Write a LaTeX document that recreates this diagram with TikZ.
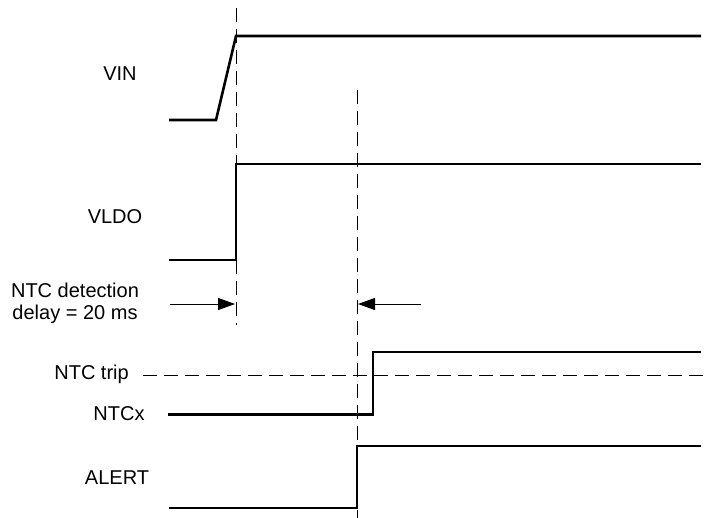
\documentclass[tikz,border=0pt]{standalone}
\usepackage{fontspec}
\setmainfont{Liberation Sans}
\usetikzlibrary{arrows.meta}
\begin{document}
\begin{tikzpicture}[x=1pt,y=-1pt,
  lbl/.style={font=\fontsize{20}{22}\selectfont, inner sep=0pt},
  wave/.style={line width=2.6pt, line join=miter},
  guide/.style={line width=1pt, dash pattern=on 14pt off 7pt},
  dimarrow/.style={line width=1pt, -{Triangle[length=17pt,width=12pt]}}]
\useasboundingbox (0,0) rectangle (708,518);
% labels
\node[lbl] (vin) at (120,74) {VIN};
\node[lbl] (vldo) at (115,217) {VLDO};
\node[lbl, align=center] (det) at (75,303) {NTC detection\\delay = 20 ms};
\node[lbl, anchor=east] (trip) at (129,374) {NTC trip};
\node[lbl] (ntcx) at (119,414) {NTCx};
\node[lbl] (alert) at (117,478) {ALERT};
% guide lines
\coordinate (g1t) at (236,8);
\coordinate (g1b) at (236,325);
\coordinate (g2t) at (357,90);
\coordinate (g2b) at (357,518);
\draw[guide] (g1t) -- (g1b);
\draw[guide] (g2t) -- (g2b);
\coordinate (t1) at (143,375.5);
\coordinate (t2) at (708,375.5);
\draw[guide] (t1) -- (t2);
% VIN
\draw[wave] (169,120) -- (216,120) -- (236,36) -- (701,36);
% VLDO
\draw[wave] (169,260) -- (236,260) -- (236,164) -- (701,164);
% NTCx
\draw[wave] (168,414.5) -- (373,414.5) -- (373,352) -- (701,352);
% ALERT
\draw[wave] (169,508) -- (357,508) -- (357,446) -- (701,446);
% delay arrows
\coordinate (a1s) at (170,304);
\coordinate (a1e) at (235,304);
\coordinate (a2s) at (421,304);
\coordinate (a2e) at (358,304);
\draw[dimarrow] (a1s) -- (a1e);
\draw[dimarrow] (a2s) -- (a2e);
\end{tikzpicture}
\end{document}
